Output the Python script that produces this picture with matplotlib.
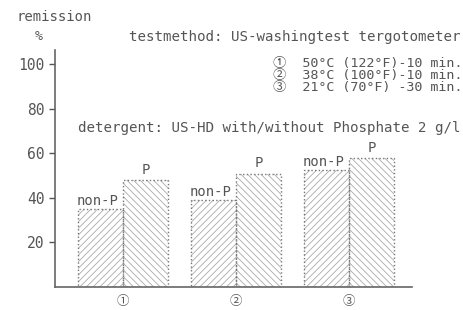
import numpy as np
import matplotlib.pyplot as plt

plt.rcParams['font.family'] = ['DejaVu Sans Mono', 'Noto Sans CJK SC']
plt.rcParams['hatch.linewidth'] = 0.6

# data
groups = ['①', '②', '③']
non_p = [35, 39, 52.5]
with_p = [48, 51, 58]
legend_lines = ['①  50°C (122°F)-10 min.',
                '②  38°C (100°F)-10 min.',
                '③  21°C (70°F) -30 min.']

ink = '#555555'
hatch_c = '#aaaaaa'

fig = plt.figure(figsize=(4.64, 3.10), dpi=100)
ax = fig.add_axes([55/464, 23/310, (412-55)/464, (287-50)/310])

x = np.arange(1, len(groups) + 1)
w = 0.4
# hatched fill
ax.bar(x - w/2, non_p, w, color='none', edgecolor=hatch_c, hatch='/////', linewidth=0)
ax.bar(x + w/2, with_p, w, color='none', edgecolor=hatch_c, hatch='\\\\\\\\\\', linewidth=0)
# dotted outlines
ax.bar(x - w/2, non_p, w, fill=False, edgecolor='#777777', linestyle=':', linewidth=1)
ax.bar(x + w/2, with_p, w, fill=False, edgecolor='#777777', linestyle=':', linewidth=1)

for xi, v in zip(x, non_p):
    ax.text(xi - w/2 - 0.02, v + 0.6, 'non-P', ha='center', va='bottom', fontsize=10, color=ink)
for xi, v in zip(x, with_p):
    ax.text(xi + w/2, v + 1.5, 'P', ha='center', va='bottom', fontsize=10, color=ink)

ax.set_xlim(0.4, 3.56)
ax.set_ylim(0, 106.5)
ax.set_yticks([20, 40, 60, 80, 100])
ax.set_xticks(x)
ax.set_xticklabels(groups, fontsize=9, color=ink)
ax.tick_params(axis='x', length=0, pad=6)
ax.tick_params(axis='y', length=4, width=1, colors=ink, labelsize=10.5, direction='out')
for s in ['top', 'right']:
    ax.spines[s].set_visible(False)
for s in ['left', 'bottom']:
    ax.spines[s].set_color('#666666')
    ax.spines[s].set_linewidth(1.2)

fig.text(17/464, 1 - 17/310, 'remission', fontsize=10, color=ink, va='center')
fig.text(35/464, 1 - 37/310, '%', fontsize=9.5, color=ink, va='center')
fig.text(461/464, 1 - 37/310, 'testmethod: US-washingtest tergotometer',
         fontsize=10.2, color=ink, va='center', ha='right')
for i, line in enumerate(legend_lines):
    fig.text(462/464, 1 - (64 + i*11.5)/310, line, fontsize=9.6, color=ink,
             va='center', ha='right', linespacing=1)
fig.text(461/464, 1 - 128/310, 'detergent: US-HD with/without Phosphate 2 g/l',
         fontsize=10.2, color=ink, va='center', ha='right')

fig.savefig('out.png', dpi=100)
